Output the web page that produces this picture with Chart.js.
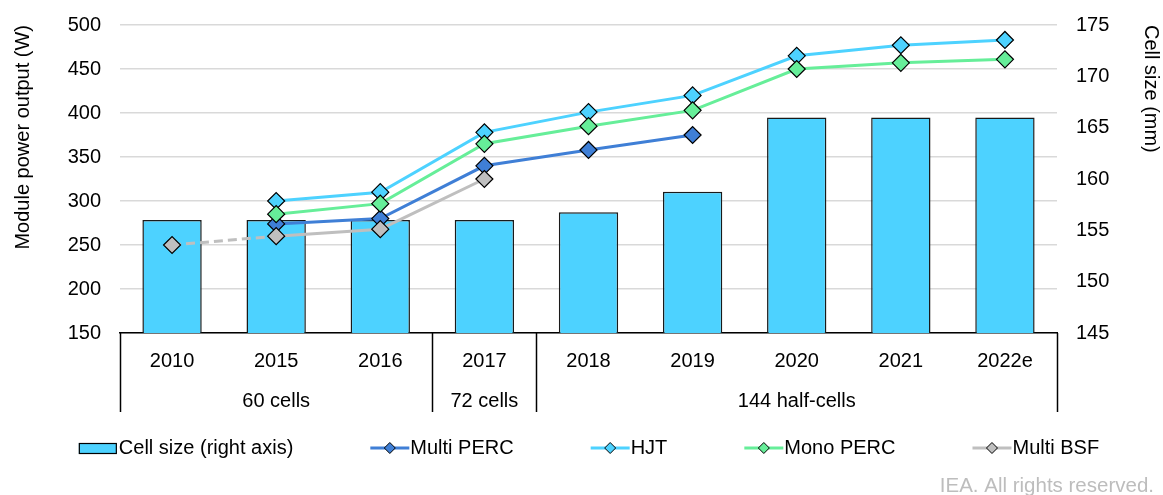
<!DOCTYPE html>
<html>
<head>
<meta charset="utf-8">
<script src="https://cdn.jsdelivr.net/npm/chart.js@4/dist/chart.umd.min.js"></script>
<style>
body { margin: 0; background: #fff; }
#wrap { width: 1163px; height: 495px; position: relative; }
</style>
</head>
<body>
<div id="wrap"><canvas id="myChart"></canvas></div>
<script>
// data
var years = ['2010', '2015', '2016', '2017', '2018', '2019', '2020', '2021', '2022e'];
var cellSize = [156, 156, 156, 156, 156.75, 158.75, 166, 166, 166];
var multiPerc = [null, 274, 280, 340, 358, 375, null, null, null];
var hjt = [null, 300, 310, 378, 401, 420, 465, 477, 483];
var monoPerc = [null, 285, 297, 365, 385, 403, 450, 457, 461];
var multiBsf = [250, 260, 268, 325, null, null, null, null, null];

var groupNames = ['60 cells', '72 cells', '144 half-cells'];
var groupSizes = [3, 1, 5];

var leftMin = 150, leftMax = 500, leftStep = 50;
var rightMin = 145, rightMax = 175, rightStep = 5;

var FONT = 'Liberation Sans, Arial, sans-serif';
Chart.defaults.font.family = FONT;
Chart.defaults.font.size = 20;
Chart.defaults.color = '#000';

function lineSet(label, data, color, order) {
    return {
        type: 'line',
        label: label,
        data: data,
        yAxisID: 'y',
        borderColor: color,
        backgroundColor: color,
        borderWidth: 3,
        pointStyle: 'rectRot',
        pointRadius: 8.5,
        pointHoverRadius: 8.5,
        pointBackgroundColor: color,
        pointBorderColor: '#000',
        pointBorderWidth: 1.2,
        tension: 0,
        order: order
    };
}

var bsf = lineSet('Multi BSF', multiBsf, '#BFBFBF', 1);
bsf.segment = {
    borderDash: function (c) { return c.p0DataIndex === 0 ? [9, 5] : undefined; }
};

// y axes: keep width fixed, drop the extra top/bottom padding chart.js asks for
function fitY(w) {
    return function (s) {
        s.width = w;
        s.paddingTop = 0;
        s.paddingBottom = 0;
    };
}

// groups under the axis, legend and credit line
var extras = {
    id: 'extras',
    afterDraw: function (chart) {
        var ctx = chart.ctx;
        var xs = chart.scales.x;
        var area = chart.chartArea;
        ctx.save();

        // group boxes
        var edges = [xs.left];
        var idx = 0;
        for (var g = 0; g < groupSizes.length; g++) {
            idx += groupSizes[g];
            if (idx < years.length) {
                edges.push((xs.getPixelForValue(idx - 1) + xs.getPixelForValue(idx)) / 2);
            } else {
                edges.push(xs.right);
            }
        }
        ctx.strokeStyle = '#000';
        ctx.lineWidth = 1.5;
        for (var e = 0; e < edges.length; e++) {
            ctx.beginPath();
            ctx.moveTo(Math.round(edges[e]) + 0.5, area.bottom);
            ctx.lineTo(Math.round(edges[e]) + 0.5, area.bottom + 79);
            ctx.stroke();
        }
        ctx.fillStyle = '#000';
        ctx.font = '20px ' + FONT;
        ctx.textAlign = 'center';
        ctx.textBaseline = 'middle';
        for (var k = 0; k < groupNames.length; k++) {
            ctx.fillText(groupNames[k], (edges[k] + edges[k + 1]) / 2, area.bottom + 68);
        }

        // legend
        var sets = chart.data.datasets;
        var legY = 448;
        var sample = 39, gap = 77;
        var widths = sets.map(function (d) { return sample + 1 + ctx.measureText(d.label).width; });
        var total = widths.reduce(function (a, b) { return a + b; }, 0) + gap * (sets.length - 1);
        var lx = 589 - total / 2;
        ctx.textAlign = 'left';
        for (var i = 0; i < sets.length; i++) {
            var d = sets[i];
            if (d.type === 'bar') {
                ctx.fillStyle = d.backgroundColor;
                ctx.fillRect(lx, legY - 5, sample - 1, 11);
                ctx.lineWidth = 1.2;
                ctx.strokeStyle = '#000';
                ctx.strokeRect(lx + 0.5, legY - 4.5, sample - 2, 10);
            } else {
                ctx.strokeStyle = d.borderColor;
                ctx.lineWidth = 3;
                ctx.beginPath();
                ctx.moveTo(lx, legY);
                ctx.lineTo(lx + sample, legY);
                ctx.stroke();
                var cx = lx + sample / 2, r = 5.5;
                ctx.beginPath();
                ctx.moveTo(cx, legY - r);
                ctx.lineTo(cx + r, legY);
                ctx.lineTo(cx, legY + r);
                ctx.lineTo(cx - r, legY);
                ctx.closePath();
                ctx.fillStyle = d.backgroundColor;
                ctx.fill();
                ctx.lineWidth = 1;
                ctx.strokeStyle = '#000';
                ctx.stroke();
            }
            ctx.fillStyle = '#000';
            ctx.fillText(d.label, lx + sample + 1, legY);
            lx += widths[i] + gap;
        }

        // credit
        ctx.fillStyle = '#BDBDBD';
        ctx.textAlign = 'right';
        ctx.font = '20.5px ' + FONT;
        ctx.fillText('IEA. All rights reserved.', 1154, 486);
        ctx.restore();
    }
};

var ctx = document.getElementById('myChart').getContext('2d');
var chart = new Chart(ctx, {
    type: 'bar',
    data: {
        labels: years,
        datasets: [
            {
                type: 'bar',
                label: 'Cell size (right axis)',
                data: cellSize,
                yAxisID: 'y1',
                backgroundColor: '#4DD2FF',
                borderColor: '#1A1A1A',
                borderWidth: 1.5,
                barPercentage: 0.57,
                categoryPercentage: 1,
                order: 5
            },
            lineSet('Multi PERC', multiPerc, '#3F7FD6', 4),
            lineSet('HJT', hjt, '#4DD2FF', 3),
            lineSet('Mono PERC', monoPerc, '#66EE99', 2),
            bsf
        ]
    },
    options: {
        responsive: true,
        maintainAspectRatio: false,
        animation: false,
        layout: { padding: { top: 25, left: 0, right: 0, bottom: 0 } },
        plugins: {
            legend: { display: false },
            tooltip: { enabled: false }
        },
        scales: {
            x: {
                grid: { display: false, drawTicks: false },
                border: { display: true, color: '#000', width: 1.5 },
                ticks: { padding: 16, color: '#000' },
                afterFit: function (s) { s.height = 162; }
            },
            y: {
                position: 'left',
                min: leftMin,
                max: leftMax,
                ticks: { stepSize: leftStep, padding: 19, color: '#000' },
                grid: { color: '#D9D9D9', lineWidth: 1.5, drawTicks: false },
                border: { display: false },
                title: {
                    display: true,
                    text: 'Module power output (W)',
                    align: 'end',
                    color: '#000',
                    padding: { top: 11, bottom: 0 }
                },
                afterFit: fitY(120)
            },
            y1: {
                position: 'right',
                min: rightMin,
                max: rightMax,
                ticks: { stepSize: rightStep, padding: 19, color: '#000' },
                grid: { display: false, drawTicks: false },
                border: { display: false },
                title: {
                    display: true,
                    text: 'Cell size (mm)',
                    align: 'end',
                    color: '#000',
                    padding: { top: 0, bottom: 0 }
                },
                afterFit: fitY(106)
            }
        }
    },
    plugins: [extras]
});
</script>
</body>
</html>
